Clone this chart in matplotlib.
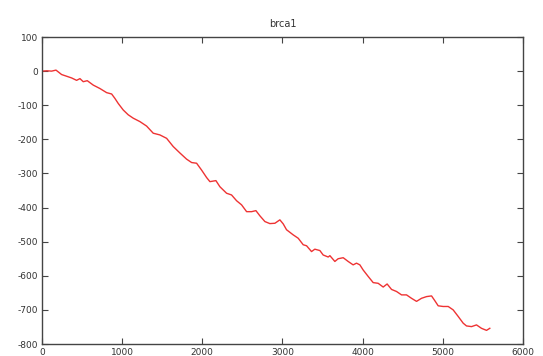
import matplotlib
matplotlib.use('Agg')
import matplotlib.pyplot as plt

plt.rcParams['axes.unicode_minus'] = False

# 读取自图片的轨迹点
pos_x = [0, 60, 120, 175, 245, 308, 370, 432, 474, 515, 565, 640, 723, 806, 869,
         910, 952, 1014, 1076, 1139, 1222, 1305, 1388, 1471, 1555, 1637, 1721,
         1804, 1867, 1929, 1991, 2054, 2095, 2170, 2220, 2303, 2365, 2428, 2490,
         2553, 2615, 2669, 2718, 2781, 2843, 2906, 2968, 3010, 3051, 3134, 3197,
         3259, 3301, 3363, 3404, 3467, 3508, 3571, 3592, 3654, 3695, 3758, 3820,
         3882, 3924, 3966, 4007, 4070, 4132, 4194, 4257, 4306, 4361, 4423, 4486,
         4548, 4610, 4673, 4735, 4798, 4860, 4901, 4943, 5005, 5068, 5130, 5192,
         5255, 5296, 5359, 5421, 5483, 5546, 5587]
walk = [0, 1, 0, 3, -10, -15, -20, -27, -22, -31, -28, -41, -51, -63, -67,
        -80, -95, -114, -128, -138, -148, -161, -182, -187, -197, -221, -240,
        -258, -268, -270, -290, -312, -324, -321, -339, -358, -363, -380, -392,
        -412, -412, -409, -424, -441, -447, -446, -436, -448, -465, -480, -490,
        -509, -512, -529, -522, -526, -539, -545, -541, -558, -550, -547, -558,
        -568, -563, -568, -583, -602, -620, -622, -633, -624, -640, -646, -656,
        -656, -666, -675, -666, -661, -659, -673, -688, -690, -690, -700, -719,
        -739, -747, -749, -744, -754, -760, -754]
x_ticks = [0, 1000, 2000, 3000, 4000, 5000, 6000]
y_ticks = [100, 0, -100, -200, -300, -400, -500, -600, -700, -800]

fig = plt.figure(figsize=(5.43, 3.56), dpi=100)
ax = fig.add_axes([0.0773, 0.0337, 0.8857, 0.8623])

ax.plot(pos_x, walk, color='#ee3333', linewidth=1.0)

ax.set_xlim(0, 6000)
ax.set_ylim(-800, 100)
ax.set_xticks(x_ticks)
ax.set_yticks(y_ticks)
ax.tick_params(direction='in', top=True, right=True, length=4, width=0.8,
               labelsize=6.5, labelcolor='#333333', pad=3, colors='#444444')
for s in ax.spines.values():
    s.set_color('#444444')
    s.set_linewidth(1.0)

ax.set_title('brca1', fontsize=7, color='#333333', pad=7)

fig.savefig('out.png', dpi=100)
